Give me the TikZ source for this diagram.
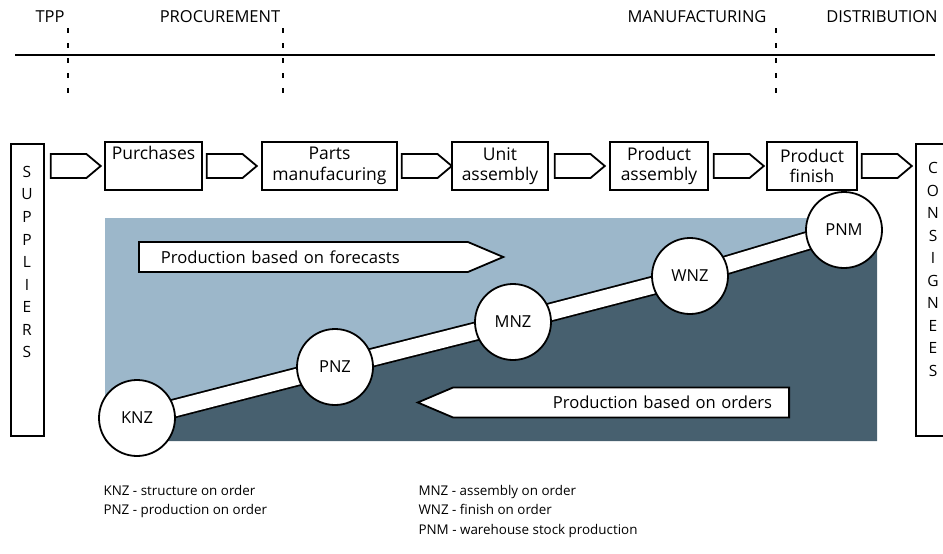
\documentclass[tikz,border=0pt]{standalone}
\usepackage{fontspec}
\setmainfont{Open Sans}
\usetikzlibrary{shapes.symbols,calc,backgrounds}
\definecolor{forecastblue}{RGB}{156,183,202}
\definecolor{orderslate}{RGB}{71,96,111}

\begin{document}
\begin{tikzpicture}[x=1pt, y=-1pt,
    stage/.style={draw, line width=1.8pt, minimum height=48pt, inner sep=1pt, align=center, font=\fontsize{17.5}{20.5}\selectfont},
    party/.style={draw, line width=1.8pt, minimum width=33pt, minimum height=292pt, anchor=north west},
    letter/.style={inner sep=0pt, font=\fontsize{15.5}{16}\selectfont},
    flow/.style={draw, line width=1.8pt, signal, signal to=east, minimum width=50pt, minimum height=24pt, signal pointer angle=80, inner sep=0pt, anchor=west},
    level/.style={circle, draw, line width=1.8pt, fill=white, minimum size=76pt, inner sep=0pt, font=\fontsize{16.5}{17}\selectfont},
    basis/.style={draw, line width=1.8pt, fill=white, signal, minimum height=30pt, inner ysep=0pt, signal pointer angle=46, font=\fontsize{16.6}{17}\selectfont},
    phase/.style={font=\fontsize{16.5}{17}\selectfont},
    divider/.style={line width=2.8pt, dash pattern=on 5pt off 10pt},
    band/.style={line width=1.8pt, double=white, double distance=16pt},
    note/.style={anchor=west, align=left, font=\fontsize{13.4}{19.5}\selectfont}]
    \useasboundingbox (0,0) rectangle (943,554);
    \clip (0,0) rectangle (943,554);

    % Phases along the top
    \draw[line width=2.5pt] (15,55) -- (935,55);
    \foreach \x in {68,283,776}
        \draw[divider] (\x,28) -- (\x,93);
    \node[phase] (tpp) at (50,17) {TPP};
    \node[phase] (proc) at (220,17) {PROCUREMENT};
    \node[phase] (manu) at (697,17) {MANUFACTURING};
    \node[phase] (dist) at (882,17) {DISTRIBUTION};

    % Chain of stages
    \node[party] (sup) at (10,143) {};
    \foreach \ch [count=\i] in {S,U,P,P,L,I,E,R,S}
        \node[letter] (sup-\i) at (27,172+22.5*\i-22.5) {\ch};
    \node[stage, minimum width=97pt] (pur) at (153.5,166) {Purchases\\\strut};
    \node[stage, minimum width=135pt] (parts) at (329.5,166) {Parts\\manufacuring};
    \node[stage, minimum width=96pt] (unit) at (500,166) {Unit\\assembly};
    \node[stage, minimum width=98pt] (prod) at (659,166) {Product\\assembly};
    \node[stage, minimum width=90pt] (fin) at (812,166) {Product\\finish};
    \node[party, minimum width=45pt] (con) at (915,143) {};
    \foreach \ch [count=\i] in {C,O,N,S,I,G,N,E,E,S}
        \node[letter] (con-\i) at (933,168+22.5*\i-22.5) {\ch};

    \node[flow] (f1) at ($(sup.east |- pur.west)+(5,0)$) {};
    \node[flow] (f2) at ($(pur.east)+(3,0)$) {};
    \node[flow] (f3) at ($(parts.east)+(3,0)$) {};
    \node[flow] (f4) at ($(unit.east)+(5,0)$) {};
    \node[flow] (f5) at ($(prod.east)+(4,0)$) {};
    \node[flow] (f6) at ($(fin.east)+(3,0)$) {};

    % Order penetration points
    \node[level] (knz) at (137,418) {KNZ};
    \node[level] (pnz) at (335,367) {PNZ};
    \node[level] (mnz) at (513,322) {MNZ};
    \node[level] (wnz) at (690,276) {WNZ};
    \node[level] (pnm) at (844,230) {PNM};

    \begin{pgfonlayer}{background}
        \fill[forecastblue] (105,218) rectangle (877,441);
        \fill[orderslate] (105,441) -- (105,436) -- ($(knz)+(0,10)$) -- ($(pnz)+(0,10)$)
            -- ($(mnz)+(0,10)$) -- ($(wnz)+(0,10)$) -- ($(pnm)+(0,10)$) -- (877,230) -- (877,441) -- cycle;
        \draw[band] (knz.center) -- (pnz.center) -- (mnz.center) -- (wnz.center) -- (pnm.center);
    \end{pgfonlayer}

    \node[basis, signal to=east, text width=285pt, inner xsep=22pt, align=left, anchor=west] (fcast) at (138,257) {Production based on forecasts};
    \node[basis, signal to=west, text width=302pt, inner xsep=17pt, align=right, anchor=east] (ords) at (790,402.5) {Production based on orders};

    % Legend
    \node[note] (keyl) at (100,501.5) {KNZ - structure on order\\PNZ - production on order};
    \node[note] (keyr) at (415,511.5) {MNZ - assembly on order\\WNZ - finish on order\\PNM - warehouse stock production};
\end{tikzpicture}
\end{document}
